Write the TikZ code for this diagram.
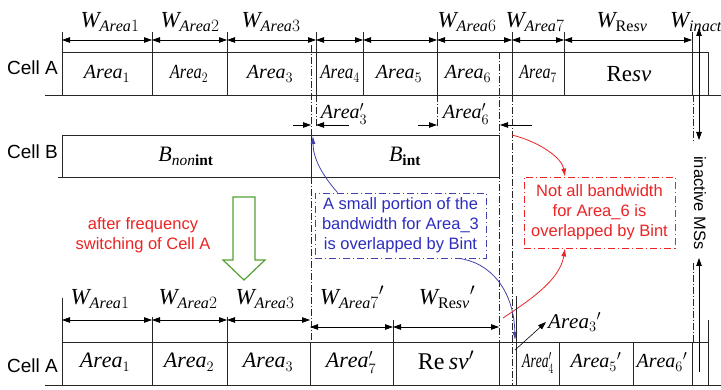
\documentclass[tikz,border=0pt]{standalone}
\usepackage{fontspec}
\setmainfont{Liberation Serif}
\newfontfamily\arialfont{Liberation Sans}
\usetikzlibrary{arrows.meta}
\definecolor{noteblue}{RGB}{45,45,190}
\definecolor{notered}{RGB}{235,35,35}
\definecolor{arrgreen}{RGB}{85,160,50}

\begin{document}
\begin{tikzpicture}[x=1pt,y=-1pt,
  bx/.style={draw=black!85,line width=0.9pt},
  dd/.style={draw=black!85,line width=0.8pt,dash pattern=on 7pt off 2pt on 1pt off 2pt},
  dm/.style={draw=black,line width=0.8pt,{Triangle[length=8pt,width=5.5pt]}-{Triangle[length=8pt,width=5.5pt]}},
  sa/.style={draw=black,line width=0.8pt,-{Triangle[length=8pt,width=5.5pt]}},
  cl/.style={font=\arialfont\fontsize{19}{19}\selectfont,inner sep=0pt,anchor=base east},
  wl/.style={font=\fontsize{23}{23}\selectfont,inner sep=0pt,anchor=base},
  al/.style={font=\fontsize{20}{20}\selectfont,inner sep=0pt,anchor=base},
  nb/.style={draw=noteblue!75!gray,text=noteblue,line width=0.8pt,dash pattern=on 7pt off 3pt on 1pt off 3pt,
    font=\arialfont\fontsize{16.5}{20}\selectfont,align=center,minimum width=171pt,minimum height=65pt,inner sep=0pt},
  nr/.style={draw=notered,text=notered,line width=0.8pt,dash pattern=on 7pt off 3pt on 1pt off 3pt,
    font=\arialfont\fontsize{16.5}{20}\selectfont,align=center,minimum width=151pt,minimum height=71pt,inner sep=0pt},
  ba/.style={draw=noteblue!75!gray,line width=0.8pt,-{Latex[length=8pt,width=5pt]}},
  ra/.style={draw=notered,line width=0.8pt,-{Latex[length=8pt,width=5pt]}}]
  \useasboundingbox (0,0) rectangle (721,390);
  % ---------- Cell A before switching ----------
  \draw[bx] (62,52) -- (708,52) -- (708,95);
  \draw[bx] (45,95) -- (721,95);
  \foreach \x [count=\i] in {62,152,227,316,363,437,512,564,692} {
    \draw[bx] (\x,32) -- (\x,95);
    \coordinate (t\i) at (\x,40);
  }
  \foreach \i [evaluate=\i as \j using {int(\i+1)}] in {1,...,8}
    \draw[dm] (t\i) -- (t\j);
  \node[cl] (ca1) at (58,75) {Cell A};
  \node[wl] (w1) at (110,28) {$\mathit{W}_{\mathit{Area}1}$};
  \node[wl] (w2) at (190,28) {$\mathit{W}_{\mathit{Area}2}$};
  \node[wl] (w3) at (271,28) {$\mathit{W}_{\mathit{Area}3}$};
  \node[wl] (w6) at (467,28) {$\mathit{W}_{\mathit{Area}6}$};
  \node[wl] (w7) at (535,28) {$\mathit{W}_{\mathit{Area}7}$};
  \node[wl] (wr) at (622,28) {$\mathit{W}_{\mathrm{Re}\mathit{sv}}$};
  \node[wl] (wi) at (696,28) {$\mathit{W}_{\mathit{inact}}$};
  \node[al] (a1) at (107,79) {$\mathit{Area}_1$};
  \node[al] (a2) at (189,79) {\scalebox{0.82}[1]{$\mathit{Area}_2$}};
  \node[al] (a3) at (270,79) {$\mathit{Area}_3$};
  \node[al] (a4) at (340,79) {\scalebox{0.85}[1]{$\mathit{Area}_4$}};
  \node[al] (a5) at (399,79) {$\mathit{Area}_5$};
  \node[al] (a6) at (468,79) {$\mathit{Area}_6$};
  \node[al] (a7) at (538,79) {\scalebox{0.8}[1]{$\mathit{Area}_7$}};
  \node[al,font=\fontsize{23}{23}\selectfont] (rs) at (629,82) {$\mathrm{Re}\mathit{sv}$};
  % ---------- dash-dot guides ----------
  \draw[dd] (311,45) -- (311,342);
  \draw[dd] (499,52) -- (499,342);
  \draw[dd] (512,95) -- (512,385);
  \draw[dd] (316,95) -- (316,128);
  \draw[dd] (437,95) -- (437,128);
  \draw[dd] (693,95) -- (693,143);
  \draw[dd] (693,263) -- (693,342);
  % ---------- Cell B ----------
  \draw[bx] (62,135) -- (499,135) -- (499,177) -- (58,177);
  \draw[bx] (62,135) -- (62,177);
  \draw[bx] (311,135) -- (311,177);
  \node[cl] (cb) at (58,159) {Cell B};
  \node[al,font=\fontsize{22}{22}\selectfont] (bn) at (186,162) {$\mathit{B}_{\mathit{non}\mathbf{int}}$};
  \node[al,font=\fontsize{22}{22}\selectfont] (bi) at (405,162) {$\mathit{B}_{\mathbf{int}}$};
  \draw[sa] (293,125) -- (311,125);
  \draw[sa] (349,125) -- (316,125);
  \draw[sa] (418,125) -- (437,125);
  \draw[sa] (532,125) -- (500,125);
  \node[al] (o3) at (344,119) {$\mathit{Area}'_3$};
  \node[al] (o6) at (466,119) {$\mathit{Area}'_6$};
  % ---------- notes ----------
  \node[nb] (nb3) at (400.5,225.5) {A small portion of the\\bandwidth for Area\_3\\is overlapped by Bint};
  \node[nr] (nr6) at (599.5,212.5) {Not all bandwidth\\for Area\_6 is\\overlapped by Bint};
  \coordinate (p3) at (313,136);
  \coordinate (q3) at (515,340);
  \draw[ba] ([xshift=23pt]nb3.north west) .. controls (322,175) and (313,158) .. (p3);
  \draw[ba] ([xshift=-28pt]nb3.south east) .. controls (490,262) and (514,290) .. (q3);
  \coordinate (p6) at (512,135);
  \coordinate (q6) at (503,318);
  \draw[ra] (p6) .. controls (540,142) and (562,158) .. ([xshift=-34.5pt]nr6.north);
  \draw[ra] (q6) .. controls (530,300) and (560,280) .. ([xshift=-34.5pt]nr6.south);
  % ---------- frequency switching ----------
  \node[font=\arialfont\fontsize{16.5}{20}\selectfont,text=notered,align=center] (sw) at (143,235) {after frequency\\switching of Cell A};
  \draw[draw=arrgreen,line width=1.2pt,fill=white] (233,197) -- (255,197) -- (255,260) -- (265,260) -- (244,280) -- (223,260) -- (233,260) -- cycle;
  % ---------- inactive MSs ----------
  \node[font=\arialfont\fontsize{16.5}{16.5}\selectfont,rotate=-90] (ims) at (700,203) {inactive MSs};
  \coordinate (i1) at (699,28);
  \coordinate (i2) at (699,140);
  \coordinate (i3) at (699,372);
  \coordinate (i4) at (699,258);
  \draw[dm] (i1) -- (i2);
  \draw[sa] (i3) -- (i4);
  % ---------- Cell A after switching ----------
  \draw[bx] (62,342) -- (708,342);
  \draw[bx] (45,385) -- (721,385);
  \foreach \x/\y in {62/298,152/317,227/317,310/342,393/320,499/342,516/296,559/342,633/342,692/342,708/320}
    \draw[bx] (\x,\y) -- (\x,385);
  \foreach \x [count=\i] in {62,152,227,310} \coordinate (s\i) at (\x,320);
  \foreach \x [count=\i] in {310,393,499} \coordinate (r\i) at (\x,327);
  \foreach \i [evaluate=\i as \j using {int(\i+1)}] in {1,2,3}
    \draw[dm] (s\i) -- (s\j);
  \foreach \i [evaluate=\i as \j using {int(\i+1)}] in {1,2}
    \draw[dm] (r\i) -- (r\j);
  \node[cl] (ca2) at (58,373) {Cell A};
  \node[wl] (v1) at (100,305) {$\mathit{W}_{\mathit{Area}1}$};
  \node[wl] (v2) at (188,305) {$\mathit{W}_{\mathit{Area}2}$};
  \node[wl] (v3) at (265,305) {$\mathit{W}_{\mathit{Area}3}$};
  \node[wl] (v7) at (352,305) {$\mathit{W}_{\mathit{Area}7}{}^{\prime}$};
  \node[wl] (vr) at (447,305) {$\mathit{W}_{\mathrm{Re}\mathit{sv}}{}^{\prime}$};
  \node[al,font=\fontsize{22}{22}\selectfont] (b1) at (105,368) {$\mathit{Area}_1$};
  \node[al,font=\fontsize{22}{22}\selectfont] (b2) at (189,368) {$\mathit{Area}_2$};
  \node[al,font=\fontsize{22}{22}\selectfont] (b3) at (268,368) {$\mathit{Area}_3$};
  \node[al,font=\fontsize{22}{22}\selectfont] (b7) at (351,368) {$\mathit{Area}'_7$};
  \node[al,font=\fontsize{24}{24}\selectfont] (br) at (446,370) {$\mathrm{Re}\,\mathit{sv}'$};
  \node[al] (b4) at (538,368) {\scalebox{0.68}[1]{$\mathit{Area}'_4$}};
  \node[al] (b5) at (596,368) {$\mathit{Area}_5{}'$};
  \node[al] (b6) at (662,368) {$\mathit{Area}_6{}'$};
  \node[al,font=\fontsize{21}{21}\selectfont,anchor=west] (n3) at (548,322) {$\mathit{Area}_3{}'$};
  \coordinate (m3) at (515,350);
  \draw[sa,line width=0.6pt] (m3) -- ([xshift=-2pt]n3.west);
\end{tikzpicture}
\end{document}
